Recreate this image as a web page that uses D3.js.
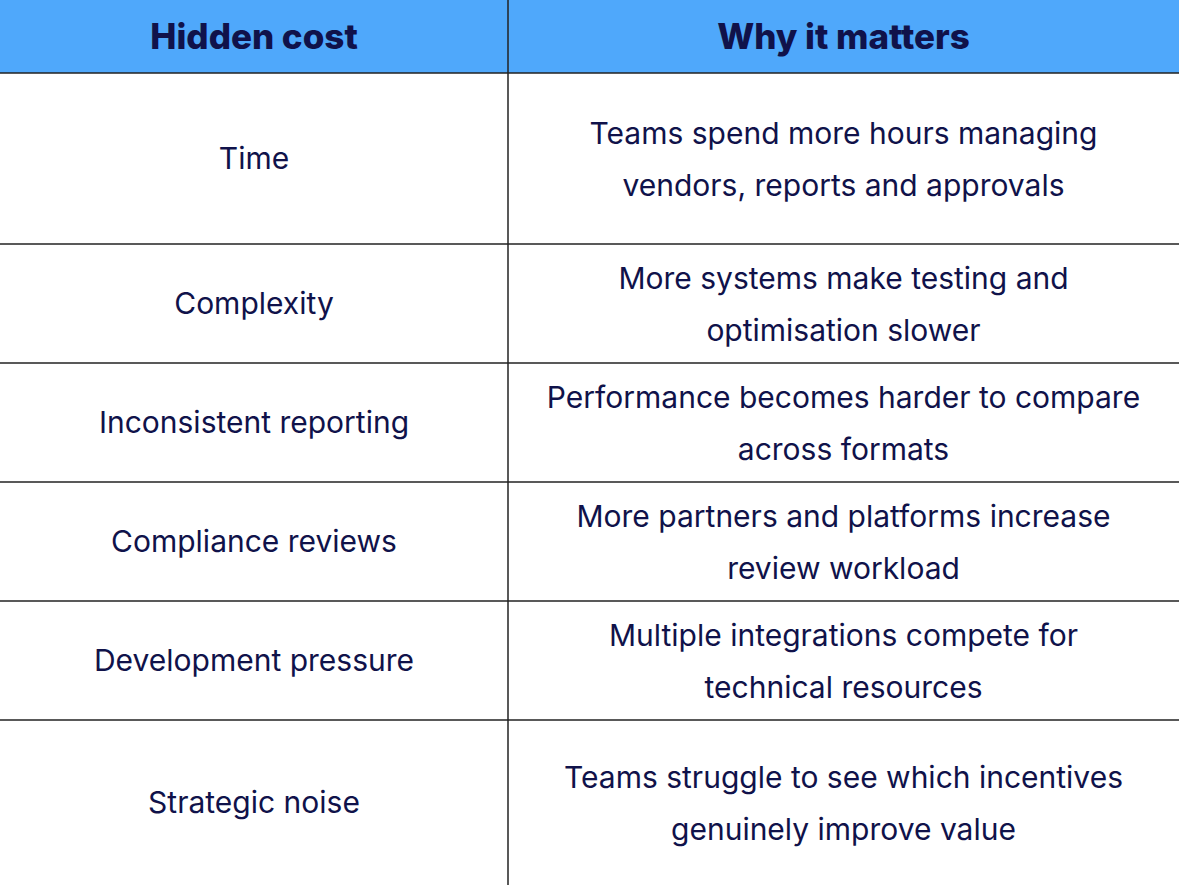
<!DOCTYPE html>
<html><head><meta charset="utf-8">
<script src="https://cdn.jsdelivr.net/npm/d3@7"></script>
<style>body{margin:0;background:#fff}</style></head>
<body><svg id="c" width="1179" height="885"></svg>
<script>
const headers = ["Hidden cost", "Why it matters"];
const costs = ["Time","Complexity","Inconsistent reporting","Compliance reviews","Development pressure","Strategic noise"];
const reasons = [
 ["Teams spend more hours managing","vendors, reports and approvals"],
 ["More systems make testing and","optimisation slower"],
 ["Performance becomes harder to compare","across formats"],
 ["More partners and platforms increase","review workload"],
 ["Multiple integrations compete for","technical resources"],
 ["Teams struggle to see which incentives","genuinely improve value"]
];
const rowEdges = [73,244,363,482,601,720,885];
const colEdges = [0,508,1179];
const ink = "#10124a";
const svg = d3.select("#c");
svg.append("rect").attr("x",0).attr("y",0).attr("width",1179).attr("height",rowEdges[0]).attr("fill","#4fa8fb");
headers.forEach((h,i)=>{
  svg.append("text").attr("x",(colEdges[i]+colEdges[i+1])/2).attr("y",rowEdges[0]/2+12)
    .attr("text-anchor","middle").attr("font-family","Inter").attr("font-weight",800)
    .attr("font-size",35).attr("fill",ink).text(h);
});
costs.forEach((c,i)=>{
  const y0=rowEdges[i], y1=rowEdges[i+1], mid=(y0+y1)/2;
  svg.append("text").attr("x",(colEdges[0]+colEdges[1])/2).attr("y",mid+10)
    .attr("text-anchor","middle").attr("font-family","Inter").attr("font-size",30).attr("fill",ink).text(c);
  reasons[i].forEach((l,j)=>{
    svg.append("text").attr("x",(colEdges[1]+colEdges[2])/2).attr("y",mid-15+j*52)
      .attr("text-anchor","middle").attr("font-family","Inter").attr("font-size",30).attr("fill",ink).text(l);
  });
});
rowEdges.slice(0,-1).forEach(y=>{
  svg.append("line").attr("x1",0).attr("x2",1179).attr("y1",y).attr("y2",y).attr("stroke","#222").attr("stroke-width",1.5);
});
svg.append("line").attr("x1",508).attr("x2",508).attr("y1",0).attr("y2",885).attr("stroke","#222").attr("stroke-width",1.5);
</script></body></html>
